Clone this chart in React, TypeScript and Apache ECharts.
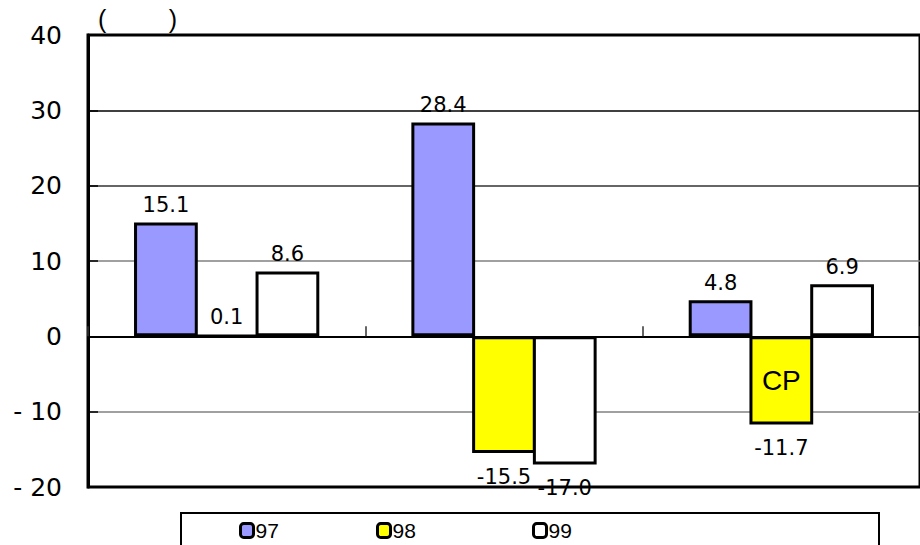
import React, { useEffect, useRef } from "react";
import * as echarts from "echarts";

const categories = ["", "", ""];
const seriesNames = ["97", "98", "99"];
const s97 = [15.1, 28.4, 4.8];
const s98 = [0.1, -15.5, -11.7];
const s99 = [8.6, -17.0, 6.9];
const seriesColors = ["#9999FF", "#FFFF00", "#FFFFFF"];
const yTicks = [-20, -10, 0, 10, 20, 30, 40];
const annotationText = "CP";
const unitText = "(         )";

const FONT = "'Liberation Sans', Arial, sans-serif";
const WIDE = "'DejaVu Sans', sans-serif";
const NARROW = "'Liberation Sans Narrow', 'Liberation Sans', sans-serif";

export default function App() {
  const ref = useRef<HTMLDivElement>(null);
  useEffect(() => {
    const chart = echarts.init(ref.current!, null, { renderer: "svg" });
    const allData = [s97, s98, s99];
    const series = allData.map((arr, i) => ({
      name: seriesNames[i],
      type: "bar",
      barGap: "-4.7%",
      barCategoryGap: "33.2%",
      xAxisIndex: 0,
      data: arr.map((v) => ({
        value: v,
        label: v >= 0 ? { position: "top", distance: 7 } : { position: "bottom", distance: 13 },
      })),
      itemStyle: { color: seriesColors[i], borderColor: "#000", borderWidth: 3 },
      label: {
        show: true,
        fontSize: 21,
        fontFamily: WIDE,
        color: "#000",
        formatter: (p: any) => Number(p.value).toFixed(1),
      },
      markPoint:
        i === 1
          ? {
              symbol: "circle",
              symbolSize: 0,
              data: [
                {
                  coord: [2, arr[2] / 2],
                  label: {
                    show: true,
                    formatter: annotationText,
                    fontSize: 28,
                    fontFamily: FONT,
                    color: "#000",
                    position: "inside",
                  },
                },
              ],
            }
          : undefined,
    }));

    const splitColors = yTicks.map((t) =>
      t === 30 ? "#000" : t === 20 ? "#333" : t === 10 || t === -10 ? "#808080" : "#000"
    );

    const legends = seriesNames.map((n, i) => ({
      data: [n],
      left: [234, 371, 527][i],
      top: 515,
      itemWidth: 13,
      itemHeight: 14,
      itemGap: 0,
      icon: "roundRect",
      textStyle: { fontSize: 21, fontFamily: NARROW, color: "#000", padding: [0, 0, 0, -3] },
      itemStyle: { borderColor: "#000", borderWidth: 3 },
    }));

    chart.setOption({
      animation: false,
      backgroundColor: "#fff",
      grid: {
        left: 88,
        top: 35,
        width: 840,
        height: 452,
        show: true,
        borderColor: "#000",
        borderWidth: 3,
        backgroundColor: "transparent",
      },
      xAxis: [
        {
          type: "category",
          data: categories,
          axisLine: { onZero: true, lineStyle: { color: "#000", width: 2 } },
          axisTick: { show: true, inside: true, length: 10, lineStyle: { color: "#333", width: 1.5 } },
          axisLabel: { show: false },
          splitLine: { show: false },
        },
      ],
      yAxis: {
        type: "value",
        min: -20,
        max: 40,
        interval: 10,
        axisLine: { show: true, lineStyle: { color: "#000", width: 3 } },
        axisTick: { show: true, inside: true, length: 10, lineStyle: { color: "#000", width: 1.5 } },
        axisLabel: {
          fontSize: 25,
          fontFamily: WIDE,
          color: "#000",
          margin: 26,
          formatter: (v: number) => (v < 0 ? "- " + Math.abs(v) : String(v)),
        },
        splitLine: { show: true, lineStyle: { color: splitColors, width: 1.5 } },
      },
      legend: legends,
      series,
      graphic: [
        {
          type: "rect",
          shape: { x: 181, y: 513, width: 698, height: 40 },
          style: { fill: "#fff", stroke: "#000", lineWidth: 2 },
          z: -1,
        },
        {
          type: "text",
          left: 98,
          top: 6,
          style: { text: unitText, fontSize: 25, fontFamily: FONT, fill: "#000" },
        },
      ],
    });
    return () => chart.dispose();
  }, []);
  return (
    <div
      ref={ref}
      style={{ position: "absolute", left: 0, top: 0, width: 920, height: 545, background: "#fff" }}
    />
  );
}
